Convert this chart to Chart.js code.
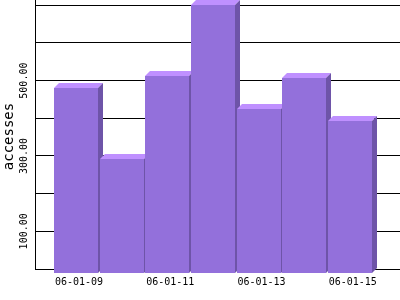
<!DOCTYPE html>
<html>
<head>
<meta charset="utf-8">
<script src="https://cdn.jsdelivr.net/npm/chart.js@4/dist/chart.umd.min.js"></script>
<style>
  html, body { margin: 0; padding: 0; background: #fff; }
  #wrap { width: 400px; height: 300px; }
</style>
</head>
<body>
<div id="wrap"><canvas id="grafico"></canvas></div>
<script>
// datos
const dias = ["06-01-09", "06-01-10", "06-01-11", "06-01-12", "06-01-13", "06-01-14", "06-01-15"];
const accesos = [495, 305, 526, 713, 439, 521, 407];
const etiquetasX = ["06-01-09", "06-01-11", "06-01-13", "06-01-15"];
const etiquetasY = [100, 300, 500];
const tituloY = "accesses";

const fuente = "DejaVu Sans Mono";

// barras con tapa y lado, en orden de izquierda a derecha
const barras3d = {
  id: "barras3d",
  afterDatasetsDraw(chart) {
    const ctx = chart.ctx;
    const meta = chart.getDatasetMeta(0);
    const dx = 5, dy = 5;
    ctx.save();
    meta.data.forEach(bar => {
      const p = bar.getProps(["x", "y", "base", "width"], true);
      const izq = Math.round(p.x - p.width / 2 - 2);
      const der = Math.round(izq + p.width - 2);
      const arriba = Math.round(p.y + dy);
      const abajo = Math.round(p.base + 4);

      // frente
      ctx.fillStyle = "#9370db";
      ctx.fillRect(izq, arriba, der - izq, abajo - arriba);

      // tapa
      ctx.fillStyle = "#bf90ff";
      ctx.beginPath();
      ctx.moveTo(izq, arriba);
      ctx.lineTo(der, arriba);
      ctx.lineTo(der + dx, arriba - dy);
      ctx.lineTo(izq + dx, arriba - dy);
      ctx.closePath();
      ctx.fill();

      // lado
      ctx.fillStyle = "#6e54a8";
      ctx.beginPath();
      ctx.moveTo(der, arriba);
      ctx.lineTo(der + dx, arriba - dy);
      ctx.lineTo(der + dx, abajo - dy);
      ctx.lineTo(der, abajo);
      ctx.closePath();
      ctx.fill();
    });
    ctx.restore();
  },
  afterDraw(chart) {
    const ctx = chart.ctx;
    const escala = chart.scales.y;
    ctx.save();
    ctx.fillStyle = "#000";
    ctx.textAlign = "center";
    ctx.textBaseline = "alphabetic";

    // etiquetas del eje Y giradas
    ctx.font = "10px '" + fuente + "'";
    escala.ticks.forEach(t => {
      if (!etiquetasY.includes(t.value)) return;
      const y = escala.getPixelForValue(t.value);
      ctx.save();
      ctx.translate(27, y);
      ctx.rotate(-Math.PI / 2);
      ctx.fillText(t.value.toFixed(2), 0, 0);
      ctx.restore();
    });

    // titulo del eje
    const area = chart.chartArea;
    ctx.font = "14px '" + fuente + "'";
    ctx.translate(13, (area.top + area.bottom) / 2 + 2);
    ctx.rotate(-Math.PI / 2);
    ctx.fillText(tituloY, 0, 0);
    ctx.restore();
  }
};

new Chart(document.getElementById("grafico"), {
  type: "bar",
  data: {
    datasets: [{
      label: tituloY,
      data: accesos.map((v, i) => ({ x: i, y: v })),
      backgroundColor: "rgba(0,0,0,0)",
      borderWidth: 0,
      barPercentage: 1,
      categoryPercentage: 1
    }]
  },
  options: {
    responsive: true,
    maintainAspectRatio: false,
    animation: false,
    devicePixelRatio: 1,
    layout: { padding: 0 },
    plugins: {
      legend: { display: false },
      tooltip: { enabled: false }
    },
    scales: {
      x: {
        type: "linear",
        min: -0.964,
        max: 7.036,
        offset: false,
        z: 1,
        afterBuildTicks: s => { s.ticks = etiquetasX.map(l => ({ value: dias.indexOf(l) })); },
        afterFit: s => { s.height = 31; },
        grid: { display: false, drawTicks: false, offset: false },
        border: { display: true, color: "#000", width: 1 },
        ticks: {
          autoSkip: false,
          maxRotation: 0,
          padding: 7,
          color: "#000",
          font: { family: fuente, size: 10 },
          callback: v => dias[v]
        }
      },
      y: {
        min: 0,
        max: 714,
        afterFit: s => { s.width = 35; },
        grid: { color: "#000", lineWidth: 1, drawTicks: false },
        border: { display: true, color: "#000", width: 1 },
        ticks: { display: false, stepSize: 100, includeBounds: false }
      }
    }
  },
  plugins: [barras3d]
});
</script>
</body>
</html>
